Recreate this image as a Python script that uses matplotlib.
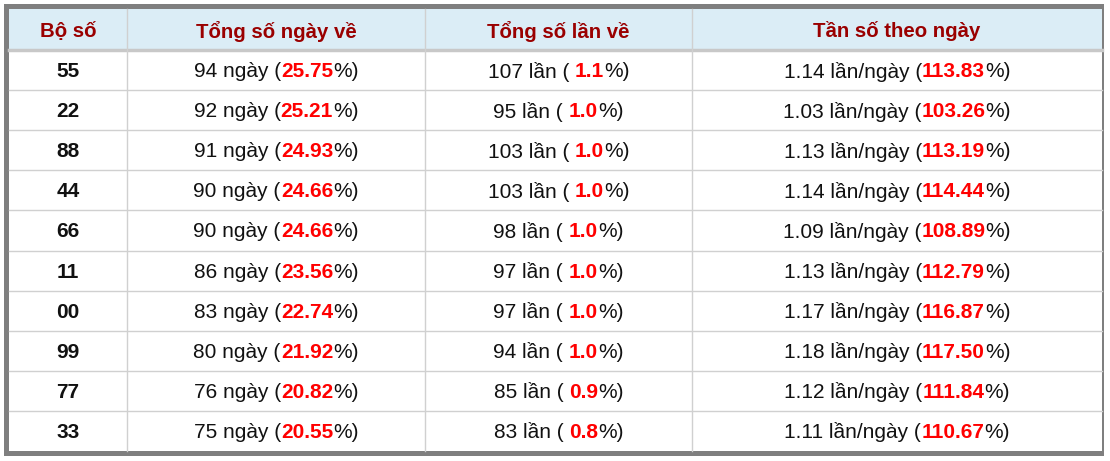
import matplotlib
matplotlib.use("Agg")
import matplotlib.pyplot as plt
from matplotlib.patches import Rectangle

headers = ["Bộ số", "Tổng số ngày về", "Tổng số lần về", "Tần số theo ngày"]
bo_so = ["55", "22", "88", "44", "66", "11", "00", "99", "77", "33"]
so_ngay = [94, 92, 91, 90, 90, 86, 83, 80, 76, 75]
pct_ngay = ["25.75", "25.21", "24.93", "24.66", "24.66", "23.56", "22.74", "21.92", "20.82", "20.55"]
so_lan = [107, 95, 103, 103, 98, 97, 97, 94, 85, 83]
pct_lan = ["1.1", "1.0", "1.0", "1.0", "1.0", "1.0", "1.0", "1.0", "0.9", "0.8"]
tan_so = ["1.14", "1.03", "1.13", "1.14", "1.09", "1.13", "1.17", "1.18", "1.12", "1.11"]
pct_ts = ["113.83", "103.26", "113.19", "114.44", "108.89", "112.79", "116.87", "117.50", "111.84", "110.67"]

W, H = 1110, 461
fig = plt.figure(figsize=(W/100, H/100), dpi=100)
ax = fig.add_axes([0, 0, 1, 1])
ax.set_xlim(0, W); ax.set_ylim(H, 0); ax.axis("off")
plt.rcParams['font.family'] = ['Liberation Sans', 'DejaVu Sans']

L, R, T, B = 9, 1102, 9, 451
cols = [L, 127, 425, 692, R]
hdr_bot = 50
row_h = (B - hdr_bot) / 10

ax.add_patch(Rectangle((4, 4), W - 8 - 2, B + 5 - 4, fc="#7f7f7f", ec="none"))
ax.add_patch(Rectangle((L, T), R - L, B - T, fc="white", ec="none"))
ax.add_patch(Rectangle((L, T), R - L, hdr_bot - T, fc="#dbedf6", ec="none"))
ax.plot([L, R], [hdr_bot, hdr_bot], color="#c8c8c8", lw=2.5)
for i in range(1, 10):
    y = hdr_bot + i * row_h
    ax.plot([L, R], [y, y], color="#d0d0d0", lw=1)
for x in cols[1:-1]:
    ax.plot([x, x], [T, B], color="#d0d0d0", lw=1)

FS = 15
HFS = 14.7
for j, h in enumerate(headers):
    ax.text((cols[j] + cols[j+1]) / 2, (T + hdr_bot) / 2 + 1.5, h, ha="center", va="center",
            fontsize=HFS, fontweight="bold", color="#9a0000")

fig.canvas.draw()
renderer = fig.canvas.get_renderer()

def seg_text(xc, yc, segs):
    widths = []
    objs = []
    for s, c, bold in segs:
        t = ax.text(0, yc, s, ha="left", va="center", fontsize=FS, color=c,
                    fontweight="bold" if bold else "normal")
        bb = t.get_window_extent(renderer)
        widths.append(bb.width)
        objs.append(t)
    x = xc - sum(widths) / 2
    for t, w in zip(objs, widths):
        t.set_x(x)
        x += w

RED = "#ff0000"; BLK = "#111111"
for i in range(10):
    yc = hdr_bot + (i + 0.5) * row_h + 1.5
    ax.text((cols[0] + cols[1]) / 2, yc, bo_so[i], ha="center", va="center",
            fontsize=FS, fontweight="bold", color=BLK)
    seg_text((cols[1] + cols[2]) / 2, yc, [(f"{so_ngay[i]} ngày (", BLK, False),
                                           (pct_ngay[i], RED, True), ("%)", BLK, False)])
    seg_text((cols[2] + cols[3]) / 2, yc, [(f"{so_lan[i]} lần ( ", BLK, False),
                                           (pct_lan[i], RED, True), ("%)", BLK, False)])
    seg_text((cols[3] + cols[4]) / 2, yc, [(f"{tan_so[i]} lần/ngày (", BLK, False),
                                           (pct_ts[i], RED, True), ("%)", BLK, False)])

fig.savefig("out.png", dpi=100)
